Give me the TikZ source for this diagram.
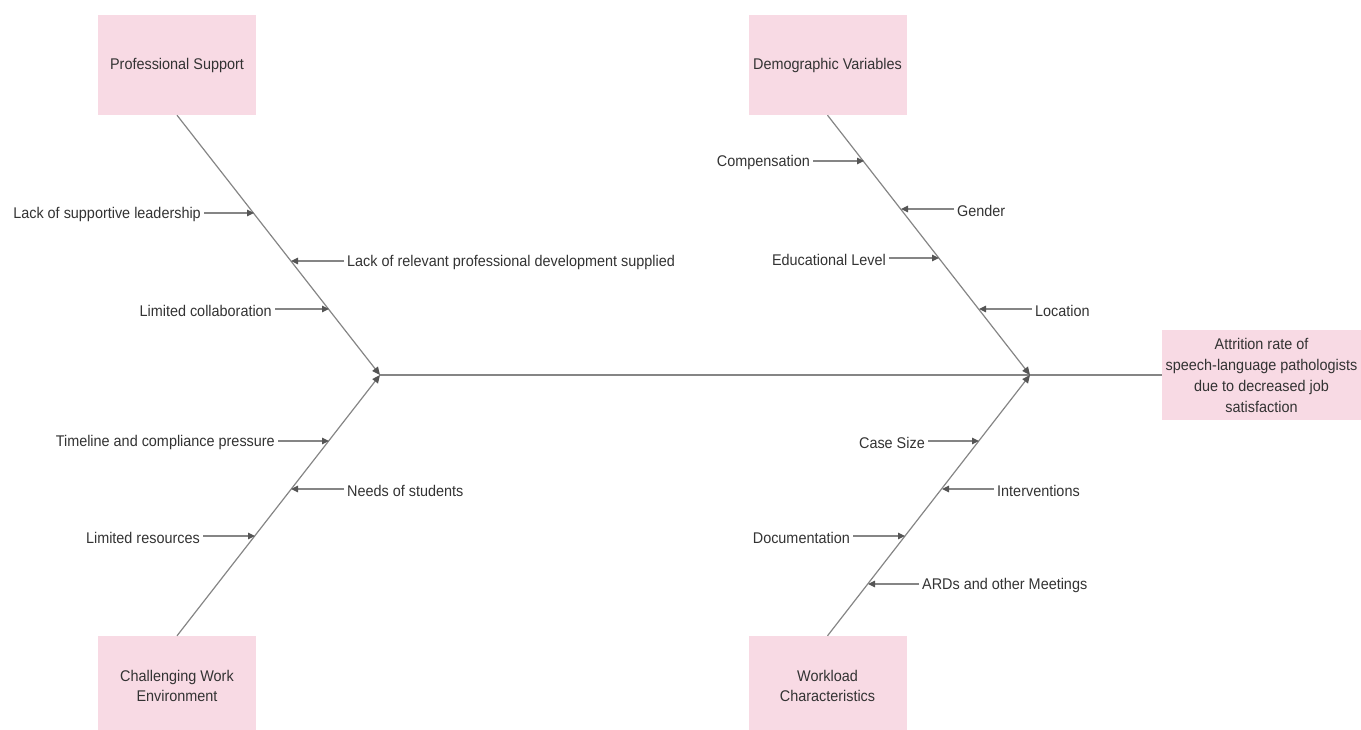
\documentclass[tikz,border=0pt]{standalone}
\usepackage{fontspec}
\setmainfont[FakeStretch=0.93]{Liberation Sans}
\usetikzlibrary{arrows.meta}
\definecolor{boxpink}{HTML}{F8DAE4}
\definecolor{linegray}{HTML}{858585}
\definecolor{tipgray}{HTML}{555555}
\definecolor{txtgray}{HTML}{333333}
\begin{document}
\begin{tikzpicture}[x=1pt,y=-1pt,
  catbox/.style={fill=boxpink,draw=none,minimum width=158pt,minimum height=100pt,align=center,text=txtgray,font=\fontsize{15.5}{20}\selectfont},
  effbox/.style={fill=boxpink,draw=none,minimum width=199pt,minimum height=90pt,align=center,text=txtgray,font=\fontsize{15.5}{21}\selectfont},
  lbl/.style={text=txtgray,font=\fontsize{15.5}{18}\selectfont,inner sep=3pt,yshift=-1.5pt},
  conn/.style={draw=linegray,line width=1.2pt,-{Triangle[length=7pt,width=6.5pt,fill=tipgray,color=tipgray]}},
  bone/.style={draw=linegray,line width=1.2pt,-{Triangle[length=8pt,width=7pt,fill=tipgray,color=tipgray]}},
  spine/.style={draw=linegray,line width=1.5pt}]
\useasboundingbox (0,0) rectangle (1361,729);
% category boxes
\node[catbox] (ps) at (177,65) {Professional Support};
\node[catbox] (dv) at (827.5,65) {Demographic Variables};
\node[catbox] (cw) at (177,686) {Challenging Work\\Environment};
\node[catbox] (wc) at (827.5,686) {Workload\\Characteristics};
\node[effbox] (eff) at (1261.5,375) {Attrition rate of\\speech-language pathologists\\due to decreased job\\satisfaction};
% junctions
\coordinate (jl) at (380,375);
\coordinate (jr) at (1030,375);
% spine
\draw[spine] (jl) -- (eff.west);
% bones
\draw[bone] (ps.south) -- (jl);
\draw[bone] (cw.north) -- (jl);
\draw[bone] (dv.south) -- (jr);
\draw[bone] (wc.north) -- (jr);
% points on bones
\coordinate (p1) at (254,213);
\coordinate (p2) at (291,261);
\coordinate (p3) at (329,309);
\coordinate (p4) at (329,441);
\coordinate (p5) at (291,489);
\coordinate (p6) at (255,536);
\coordinate (q1) at (864,161);
\coordinate (q2) at (901,209);
\coordinate (q3) at (939,258);
\coordinate (q4) at (979,309);
\coordinate (q5) at (979,441);
\coordinate (q6) at (942,489);
\coordinate (q7) at (905,536);
\coordinate (q8) at (868,584);
% labels
\node[lbl,anchor=east] (l1) at (204,213) {Lack of supportive leadership};
\node[lbl,anchor=west] (l2) at (344,261) {Lack of relevant professional development supplied};
\node[lbl,anchor=east] (l3) at (275,309) {Limited collaboration};
\node[lbl,anchor=east] (l4) at (278,441) {Timeline and compliance pressure};
\node[lbl,anchor=west] (l5) at (344,489) {Needs of students};
\node[lbl,anchor=east] (l6) at (203,536) {Limited resources};
\node[lbl,anchor=east] (m1) at (813,161) {Compensation};
\node[lbl,anchor=west] (m2) at (954,209) {Gender};
\node[lbl,anchor=east] (m3) at (889,258) {Educational Level};
\node[lbl,anchor=west] (m4) at (1032,309) {Location};
\node[lbl,anchor=east] (m5) at (928,441) {Case Size};
\node[lbl,anchor=west] (m6) at (994,489) {Interventions};
\node[lbl,anchor=east] (m7) at (853,536) {Documentation};
\node[lbl,anchor=west] (m8) at (919,584) {ARDs and other Meetings};
% connectors
\draw[conn] (l1.east |- p1) -- (p1);
\draw[conn] (l2.west |- p2) -- (p2);
\draw[conn] (l3.east |- p3) -- (p3);
\draw[conn] (l4.east |- p4) -- (p4);
\draw[conn] (l5.west |- p5) -- (p5);
\draw[conn] (l6.east |- p6) -- (p6);
\draw[conn] (m1.east |- q1) -- (q1);
\draw[conn] (m2.west |- q2) -- (q2);
\draw[conn] (m3.east |- q3) -- (q3);
\draw[conn] (m4.west |- q4) -- (q4);
\draw[conn] (m5.east |- q5) -- (q5);
\draw[conn] (m6.west |- q6) -- (q6);
\draw[conn] (m7.east |- q7) -- (q7);
\draw[conn] (m8.west |- q8) -- (q8);
\end{tikzpicture}
\end{document}
